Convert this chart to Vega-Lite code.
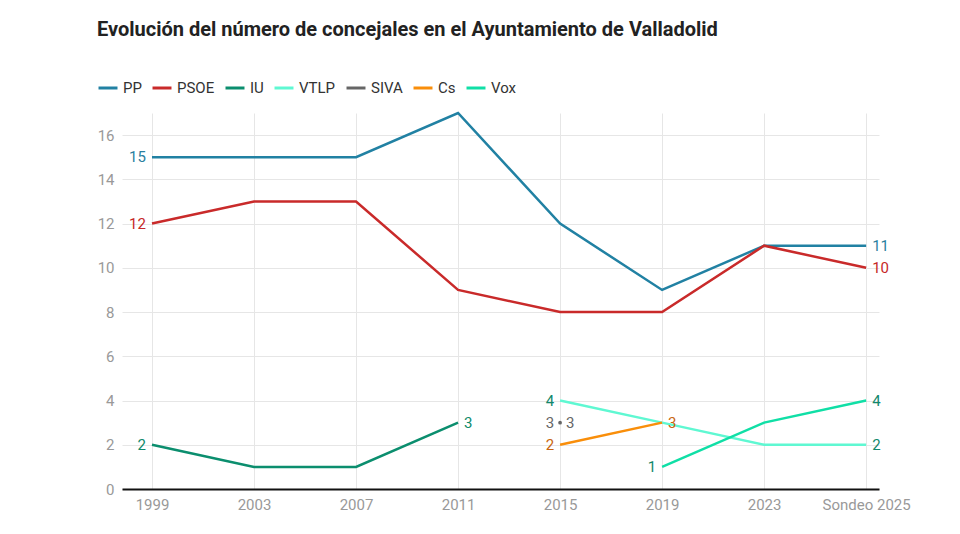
{
  "$schema": "https://vega.github.io/schema/vega-lite/v6.json",
  "width": 757,
  "height": 376,
  "autosize": "none",
  "padding": {"left": 122, "top": 113, "right": 81, "bottom": 45},
  "title": {
    "text": "Evolución del número de concejales en el Ayuntamiento de Valladolid",
    "anchor": "start",
    "frame": "group",
    "dx": -25,
    "offset": 37,
    "font": "Roboto",
    "fontSize": 20,
    "fontWeight": "bold",
    "color": "#222222"
  },
  "config": {
    "view": {"stroke": null},
    "font": "Roboto",
    "axis": {
      "labelFont": "Roboto",
      "labelFontSize": 15,
      "labelColor": "#999999",
      "gridColor": "#e6e6e6",
      "gridWidth": 1,
      "ticks": false,
      "title": null
    }
  },
  "data": {
    "values": [
      {"year": "1999", "party": "PP", "seats": 15},
      {"year": "2003", "party": "PP", "seats": 15},
      {"year": "2007", "party": "PP", "seats": 15},
      {"year": "2011", "party": "PP", "seats": 17},
      {"year": "2015", "party": "PP", "seats": 12},
      {"year": "2019", "party": "PP", "seats": 9},
      {"year": "2023", "party": "PP", "seats": 11},
      {"year": "Sondeo 2025", "party": "PP", "seats": 11},
      {"year": "1999", "party": "PSOE", "seats": 12},
      {"year": "2003", "party": "PSOE", "seats": 13},
      {"year": "2007", "party": "PSOE", "seats": 13},
      {"year": "2011", "party": "PSOE", "seats": 9},
      {"year": "2015", "party": "PSOE", "seats": 8},
      {"year": "2019", "party": "PSOE", "seats": 8},
      {"year": "2023", "party": "PSOE", "seats": 11},
      {"year": "Sondeo 2025", "party": "PSOE", "seats": 10},
      {"year": "1999", "party": "IU", "seats": 2},
      {"year": "2003", "party": "IU", "seats": 1},
      {"year": "2007", "party": "IU", "seats": 1},
      {"year": "2011", "party": "IU", "seats": 3},
      {"year": "2015", "party": "VTLP", "seats": 4},
      {"year": "2019", "party": "VTLP", "seats": 3},
      {"year": "2023", "party": "VTLP", "seats": 2},
      {"year": "Sondeo 2025", "party": "VTLP", "seats": 2},
      {"year": "2015", "party": "SIVA", "seats": 3},
      {"year": "2015", "party": "Cs", "seats": 2},
      {"year": "2019", "party": "Cs", "seats": 3},
      {"year": "2019", "party": "Vox", "seats": 1},
      {"year": "2023", "party": "Vox", "seats": 3},
      {"year": "Sondeo 2025", "party": "Vox", "seats": 4}
    ]
  },
  "transform": [
    {"window": [{"op": "row_number", "as": "first"}], "groupby": ["party"], "sort": [{"field": "year", "order": "ascending"}]},
    {"window": [{"op": "row_number", "as": "last"}], "groupby": ["party"], "sort": [{"field": "year", "order": "descending"}]}
  ],
  "encoding": {
    "x": {
      "field": "year",
      "type": "ordinal",
      "scale": {"type": "point", "padding": 0.21, "align": 0.7, "domain": ["1999", "2003", "2007", "2011", "2015", "2019", "2023", "Sondeo 2025"]},
      "axis": {"labelAngle": 0, "domainColor": "#111111", "domainWidth": 2, "labelPadding": 8, "grid": true}
    },
    "y": {
      "field": "seats",
      "type": "quantitative",
      "scale": {"domain": [0, 17], "nice": false},
      "axis": {"values": [0, 2, 4, 6, 8, 10, 12, 14, 16], "domain": false, "labelPadding": 8}
    }
  },
  "layer": [
    {
      "mark": {"type": "line", "strokeWidth": 2.5},
      "encoding": {
        "color": {
          "field": "party",
          "type": "nominal",
          "scale": {
            "domain": ["PP", "PSOE", "IU", "VTLP", "SIVA", "Cs", "Vox"],
            "range": ["#2181a3", "#c92a2a", "#0b8e6e", "#5ff8d2", "#666666", "#f98e0a", "#10dfa6"]
          },
          "legend": {
            "title": null,
            "orient": "none",
            "legendX": -25,
            "legendY": -36,
            "direction": "horizontal",
            "symbolType": "stroke",
            "symbolStrokeWidth": 3,
            "symbolSize": 360,
            "labelFont": "Roboto",
            "labelFontSize": 15,
            "labelColor": "#333333",
            "columnPadding": 4,
            "labelOffset": 4
          }
        }
      }
    },
    {
      "transform": [{"filter": "datum.first == 1 && datum.last == 1"}],
      "mark": {"type": "circle", "size": 14, "opacity": 1},
      "encoding": {"color": {"field": "party", "type": "nominal"}}
    },
    {
      "transform": [{"filter": "datum.first == 1"}],
      "mark": {"type": "text", "align": "right", "baseline": "middle", "dx": -6, "fontSize": 15},
      "encoding": {
        "text": {"field": "seats", "type": "quantitative"},
        "fill": {
          "field": "party",
          "type": "nominal",
          "scale": {
            "domain": ["PP", "PSOE", "IU", "VTLP", "SIVA", "Cs", "Vox"],
            "range": ["#2a7fa0", "#c62828", "#0e8a6a", "#12876b", "#666666", "#c8650e", "#12876b"]
          },
          "legend": null
        }
      }
    },
    {
      "transform": [{"filter": "datum.last == 1"}],
      "mark": {"type": "text", "align": "left", "baseline": "middle", "dx": 6, "fontSize": 15},
      "encoding": {
        "text": {"field": "seats", "type": "quantitative"},
        "fill": {"field": "party", "type": "nominal", "legend": null}
      }
    }
  ]
}
